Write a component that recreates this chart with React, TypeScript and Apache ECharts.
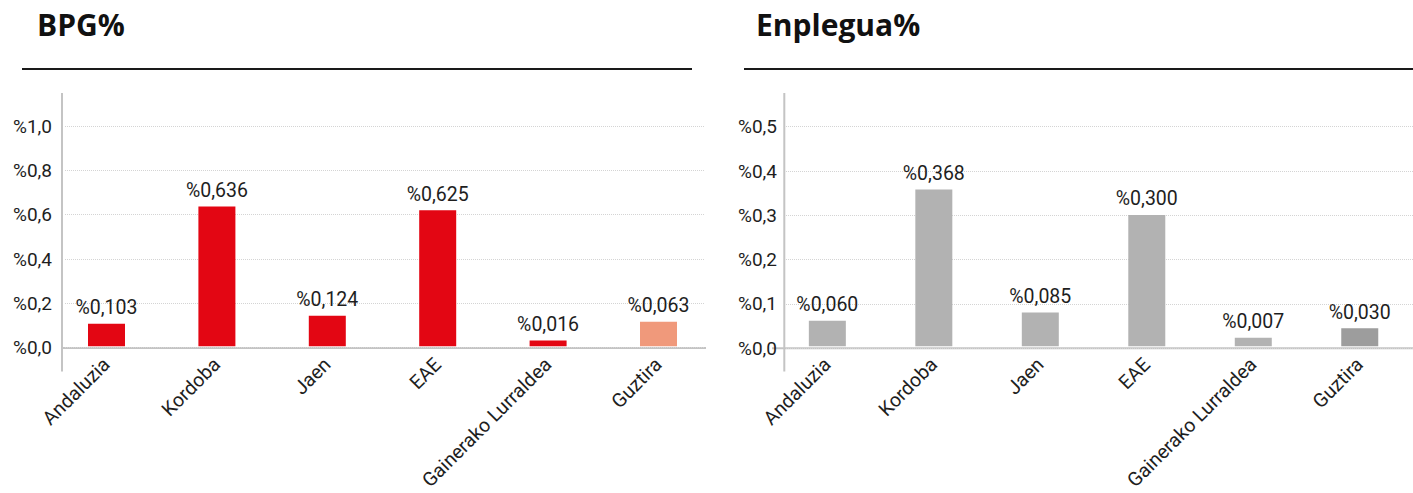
import React, { useEffect, useRef } from "react";
import * as echarts from "echarts";

const categories = ["Andaluzia", "Kordoba", "Jaen", "EAE", "Gainerako Lurraldea", "Guztira"];
// bar heights as drawn in the picture
const bpgValues = [0.102, 0.635, 0.138, 0.617, 0.026, 0.111];
// values written above the bars
const bpgLabels = [0.103, 0.636, 0.124, 0.625, 0.016, 0.063];
const enpleguaValues = [0.058, 0.357, 0.077, 0.299, 0.019, 0.041];
const enpleguaLabels = [0.06, 0.368, 0.085, 0.3, 0.007, 0.03];

const bpgTicks = { min: 0, max: 1.0, interval: 0.2 };
const enpleguaTicks = { min: 0, max: 0.5, interval: 0.1 };

const FONT = "Roboto, 'Noto Sans', sans-serif";
const TITLE_FONT = "'Open Sans', Roboto, sans-serif";
const TEXT = "#1e1e1e";
const W = 1413;
const H = 493;

const fmt3 = (v: number) => "%" + v.toFixed(3).replace(".", ",");
const fmt1 = (v: number) => "%" + v.toFixed(1).replace(".", ",");

export default function App() {
  const ref = useRef<HTMLDivElement>(null);
  useEffect(() => {
    if (!ref.current) return;
    const chart = echarts.init(ref.current, null, { renderer: "svg" });

    const panels = [
      {
        title: "BPG%",
        titleX: 37,
        lineX: [22, 692],
        yLine: { x: 62, y1: 93, y2: 371.5 },
        xLine: { y: 348, x1: 62, x2: 706 },
        barGrid: { left: 51.3, right: W - 713.7, top: 126, bottom: H - 347.7 },
        lineGrid: { left: 65, right: W - 705, top: 126, bottom: H - 347.7 },
        labelMargin: 13,
        ticks: bpgTicks,
        values: bpgValues,
        labels: bpgLabels,
        color: "#E30613",
        lastColor: "#F0997B",
      },
      {
        title: "Enplegua%",
        titleX: 756,
        lineX: [744, 1413],
        yLine: { x: 784.3, y1: 93, y2: 371.5 },
        xLine: { y: 348.3, x1: 772, x2: 1413 },
        barGrid: { left: 774.1, right: W - 1436.5, top: 126.7, bottom: H - 348.3 },
        lineGrid: { left: 786, right: 0, top: 126.7, bottom: H - 348.3 },
        labelMargin: 9,
        ticks: enpleguaTicks,
        values: enpleguaValues,
        labels: enpleguaLabels,
        color: "#B2B2B2",
        lastColor: "#9D9D9D",
      },
    ];

    const grid: any[] = [];
    const xAxis: any[] = [];
    const yAxis: any[] = [];
    const series: any[] = [];
    const graphic: any[] = [];

    panels.forEach((p) => {
      const gA = grid.length;
      grid.push({ ...p.barGrid, containLabel: false });
      grid.push({ ...p.lineGrid, containLabel: false });
      xAxis.push({
        type: "category",
        gridIndex: gA,
        data: categories,
        axisLine: { show: false },
        axisTick: { show: false },
        axisLabel: {
          interval: 0,
          rotate: 45,
          margin: 15,
          color: TEXT,
          fontSize: 19.5,
          fontFamily: FONT,
        },
      });
      yAxis.push({
        type: "value",
        gridIndex: gA,
        min: p.ticks.min,
        max: p.ticks.max,
        interval: p.ticks.interval,
        show: false,
        splitLine: { show: false },
      });
      xAxis.push({ type: "value", gridIndex: gA + 1, show: false, splitLine: { show: false } });
      yAxis.push({
        type: "value",
        gridIndex: gA + 1,
        min: p.ticks.min,
        max: p.ticks.max,
        interval: p.ticks.interval,
        axisLine: { show: false },
        axisTick: { show: false },
        splitLine: { show: true, lineStyle: { color: "#d4d4d4", type: "dotted", width: 1 } },
        axisLabel: {
          margin: p.labelMargin,
          color: TEXT,
          fontSize: 19,
          fontFamily: FONT,
          formatter: (v: number) => fmt1(v),
        },
      });
      series.push({
        type: "bar",
        xAxisIndex: gA,
        yAxisIndex: gA,
        barWidth: 37,
        data: p.values.map((v, k) => ({
          value: v,
          itemStyle: { color: k === p.values.length - 1 ? p.lastColor : p.color },
        })),
        label: {
          show: true,
          position: "top",
          distance: 6,
          color: TEXT,
          fontSize: 19.5,
          fontFamily: FONT,
          formatter: (d: any) => fmt3(p.labels[d.dataIndex]),
        },
      });
      graphic.push(
        {
          type: "text",
          left: p.titleX,
          top: 9,
          style: { text: p.title, fontSize: 30, fontWeight: "bold", fontFamily: TITLE_FONT, fill: "#111" },
        },
        {
          type: "line",
          shape: { x1: p.lineX[0], y1: 69, x2: p.lineX[1], y2: 69 },
          style: { stroke: "#1a1a1a", lineWidth: 2 },
        },
        {
          type: "line",
          shape: { x1: p.yLine.x, y1: p.yLine.y1, x2: p.yLine.x, y2: p.yLine.y2 },
          style: { stroke: "#c4c4c4", lineWidth: 2 },
        },
        {
          type: "line",
          shape: { x1: p.xLine.x1, y1: p.xLine.y, x2: p.xLine.x2, y2: p.xLine.y },
          style: { stroke: "#c4c4c4", lineWidth: 2 },
        }
      );
    });

    chart.setOption({
      animation: false,
      backgroundColor: "#ffffff",
      grid,
      xAxis,
      yAxis,
      series,
      graphic,
    });
    return () => chart.dispose();
  }, []);

  return (
    <div
      ref={ref}
      style={{ position: "absolute", left: 0, top: 0, width: W, height: H, overflow: "hidden" }}
    />
  );
}
